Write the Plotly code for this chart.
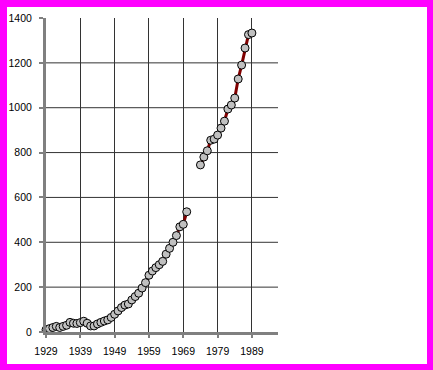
import plotly.graph_objects as go

years = list(range(1929, 1990))
values = [10, 15, 20, 25, 20, 25, 30, 43, 39, 38, 42, 48, 39, 27, 27, 36, 43, 49, 54, 65,
          79, 94, 109, 120, 125, 143, 158, 173, 196, 220, 253, 272, 287, 300, 315, 347, 373,
          400, 430, 469, 480, 536,
          None, None, None,
          745, 780, 808, 855, 860, 878, 909, 940, 994, 1012, 1043, 1128, 1190, 1266, 1326, 1333]
x_ticks = [1929, 1939, 1949, 1959, 1969, 1979, 1989]
y_ticks = [0, 200, 400, 600, 800, 1000, 1200, 1400]

W, H = 433, 370
L, R, T, B = 46, 155, 18, 38
pw, ph = W - L - R, H - T - B

fig = go.Figure()

# white card inside magenta frame
fig.add_shape(type="rect", xref="paper", yref="paper", layer="below",
              x0=(7 - L) / pw, x1=(427 - L) / pw,
              y0=(H - B - 364) / ph, y1=(H - B - 7) / ph,
              fillcolor="white", line=dict(width=0))
# horizontal gridlines (none at the top value)
for v in y_ticks[1:-1]:
    fig.add_shape(type="line", xref="paper", yref="y", layer="below",
                  x0=0, x1=1, y0=v, y1=v, line=dict(color="#333333", width=1))

fig.add_trace(go.Scatter(
    x=years, y=values, mode="lines+markers", connectgaps=False, cliponaxis=False,
    line=dict(color="#800000", width=3),
    marker=dict(size=8, color="#C0C0C0", line=dict(color="#000000", width=1)),
    showlegend=False, hoverinfo="x+y"))

fig.update_layout(
    width=W, height=H, margin=dict(l=L, r=R, t=T, b=B, pad=0, autoexpand=False),
    paper_bgcolor="#FF00FF", plot_bgcolor="rgba(0,0,0,0)",
    font=dict(family="Liberation Sans, Arial, sans-serif", size=10.5, color="black"),
    xaxis=dict(range=[1929, 1996.6], tickvals=x_ticks, ticktext=[str(v) for v in x_ticks],
               showgrid=True, gridcolor="#333333", gridwidth=1,
               showline=True, linecolor="#808080", linewidth=3,
               ticks="outside", ticklen=3, tickcolor="#808080", tickwidth=2,
               ticklabelstandoff=4, automargin=False,
               zeroline=False, fixedrange=True),
    yaxis=dict(range=[0, 1400], tickvals=y_ticks, ticktext=[str(v) for v in y_ticks],
               showgrid=False,
               showline=True, linecolor="#808080", linewidth=3,
               ticks="outside", ticklen=4, tickcolor="#808080", tickwidth=2,
               ticklabelstandoff=5, automargin=False,
               zeroline=False, fixedrange=True),
)

fig.write_html("out.html")
